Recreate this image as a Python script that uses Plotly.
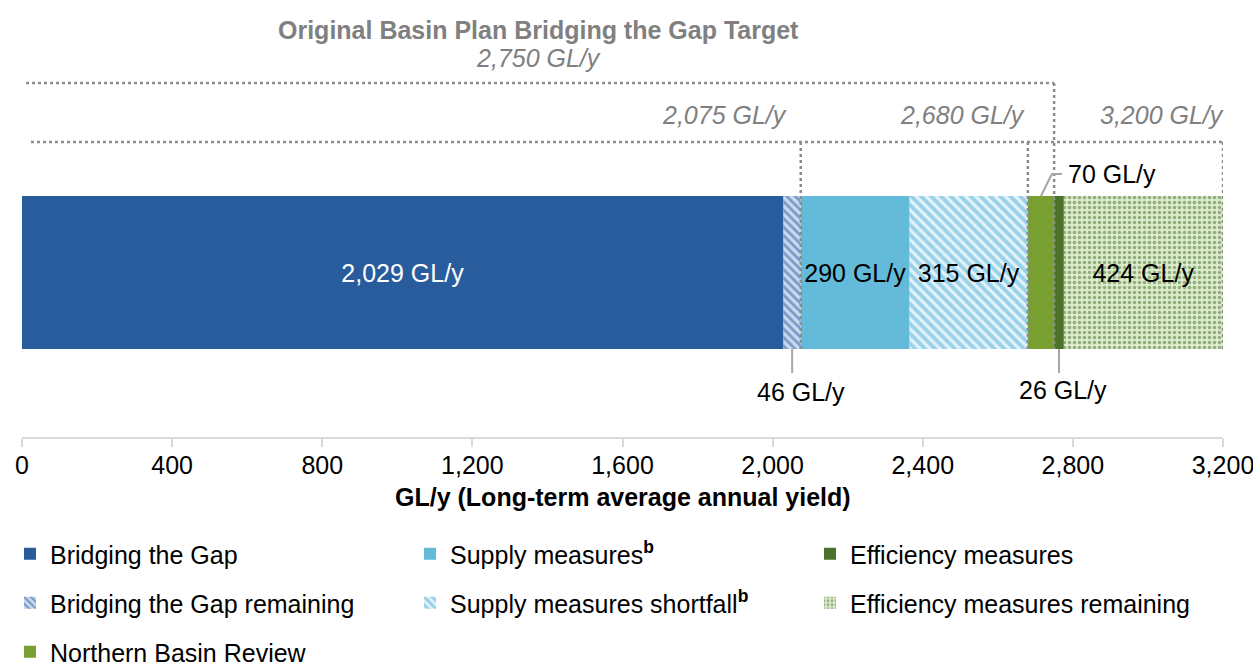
import plotly.graph_objects as go

# ---------------- data ----------------
segments = ["Bridging the Gap", "Bridging the Gap remaining", "Supply measures<sup><b>b</b></sup>",
            "Supply measures shortfall<sup><b>b</b></sup>", "Northern Basin Review",
            "Efficiency measures", "Efficiency measures remaining"]
values = [2029, 46, 290, 315, 70, 26, 424]
bar_labels = ["2,029 GL/y", "", "290 GL/y", "315 GL/y", "", "", "424 GL/y"]
label_colors = ["white", "black", "black", "black", "black", "black", "black"]
legend_rows = ["legend", "legend2", "legend", "legend2", "legend3", "legend", "legend2"]

callout_labels = ["46 GL/y", "70 GL/y", "26 GL/y"]
milestones = [2075, 2680, 2750, 3200]
milestone_labels = ["2,075 GL/y", "2,680 GL/y", "2,750 GL/y", "3,200 GL/y"]
target_title = "Original Basin Plan Bridging the Gap Target"
x_ticks = [0, 400, 800, 1200, 1600, 2000, 2400, 2800, 3200]
x_title = "GL/y (Long-term average annual yield)"

# ---------------- styles ----------------
FONT = "Liberation Sans, Arial, sans-serif"
FS = 25
GREY_TXT = "#808080"
DOT = "#8C8C8C"
LEAD = "#A6A6A6"
styles = [
    dict(color="#285C9C"),
    dict(color="#C9D9EE", pattern=dict(shape="\\", bgcolor="#C9D9EE", fgcolor="#285C9C", size=6, solidity=0.45, fillmode="overlay")),
    dict(color="#63BAD9"),
    dict(color="#E3F3FA", pattern=dict(shape="\\", bgcolor="#E3F3FA", fgcolor="#4FB0D6", size=7, solidity=0.55, fillmode="overlay")),
    dict(color="#77A030"),
    dict(color="#4A7329"),
    dict(color="#DCEBCB", pattern=dict(shape=".", bgcolor="#DCEBCB", fgcolor="#44702A", size=5, solidity=0.38, fillmode="overlay")),
]

# geometry helpers (layout positions only)
PLOT_TOP, PLOT_BOT = 0, 437
BAR_CENTER_PX, BAR_PX = 272.5, 153.0
def Y(px):
    return (BAR_CENTER_PX - px) / BAR_PX
def P(px):
    return (PLOT_BOT - px) / (PLOT_BOT - PLOT_TOP)

fig = go.Figure()
base = 0
bases = []
for name, v, lab, lc, lg, st in zip(segments, values, bar_labels, label_colors, legend_rows, styles):
    bases.append(base)
    marker = dict(st)
    marker["line"] = dict(width=0)
    if lab:
        kw = dict(text=[lab], textposition="inside", insidetextanchor="middle",
                  constraintext="none", textangle=0,
                  textfont=dict(family=FONT, size=FS, color=lc))
    else:
        kw = dict(textposition="none")
    fig.add_trace(go.Bar(
        x=[v], y=[0], base=[base], orientation="h", width=1,
        name=name, legend=lg, marker=marker, hoverinfo="skip", **kw
    ))
    base += v
ends = [b + v for b, v in zip(bases, values)]
mids = [b + v / 2 for b, v in zip(bases, values)]

shapes = []
def dotted(x0, y0, x1, y1):
    shapes.append(dict(type="line", xref="x", yref="y", x0=x0, y0=y0, x1=x1, y1=y1,
                       line=dict(color=DOT, width=2.5, dash="dot")))
def lead(x0, y0, x1, y1):
    shapes.append(dict(type="line", xref="x", yref="y", x0=x0, y0=y0, x1=x1, y1=y1,
                       line=dict(color=LEAD, width=2)))

y_line1, y_line2 = Y(83), Y(142)
px_per_unit = 1201 / 3200
# top bracket (2,750 target)
dotted(4 / px_per_unit, y_line1, milestones[2], y_line1)
dotted(milestones[2], y_line1, milestones[2], -0.5)
# lower bracket (2,075 / 2,680 / 3,200)
dotted(9 / px_per_unit, y_line2, milestones[3], y_line2)
for m in (milestones[0], milestones[1], milestones[3]):
    dotted(m, y_line2, m, -0.5)

# callout leader lines
lead(mids[1], -0.5, mids[1], Y(373))
lead(mids[5], -0.5, mids[5], Y(373))
shapes.append(dict(type="path", xref="x", yref="y",
                   path=f"M {mids[4]},0.5 L {mids[4] + 29},{Y(174)} L {ends[4] + 21},{Y(174)}",
                   line=dict(color=LEAD, width=2)))

ann = []
def text(x, y, s, **kw):
    d = dict(x=x, y=y, xref="x", yref="y", text=s, showarrow=False,
             font=dict(family=FONT, size=FS, color="black"))
    f = kw.pop("font", None)
    if f:
        d["font"].update(f)
    d.update(kw)
    ann.append(d)

text(milestones[2] / 2, Y(30), f"<b>{target_title}</b>", font=dict(color=GREY_TXT))
text(milestones[2] / 2, Y(58), f"<i>{milestone_labels[2]}</i>", font=dict(color=GREY_TXT))
text(milestones[0], Y(115), f"<i>{milestone_labels[0]}</i>", xanchor="right", xshift=-12, font=dict(color=GREY_TXT))
text(milestones[1], Y(115), f"<i>{milestone_labels[1]}</i>", xanchor="right", xshift=-1, font=dict(color=GREY_TXT))
text(milestones[3], Y(115), f"<i>{milestone_labels[3]}</i>", xanchor="right", xshift=3, font=dict(color=GREY_TXT))

text(ends[1], Y(392), callout_labels[0])
text(ends[5] - 2, Y(390), callout_labels[2])
text(ends[4] + 21, Y(174), callout_labels[1], xanchor="left", xshift=4)

ann.append(dict(x=0.5, y=P(497), xref="paper", yref="paper", text=f"<b>{x_title}</b>",
                showarrow=False, yanchor="middle", font=dict(family=FONT, size=FS, color="black")))

legend_common = dict(orientation="h", xanchor="left", yanchor="middle", x=(10 - 22) / 1201,
                     entrywidth=355, entrywidthmode="pixels", bgcolor="rgba(0,0,0,0)",
                     font=dict(family=FONT, size=FS, color="black"), valign="middle",
                     traceorder="normal")

fig.update_layout(
    template="none",
    width=1253, height=666,
    margin=dict(l=22, r=30, t=PLOT_TOP, b=666 - PLOT_BOT, pad=0, autoexpand=False),
    paper_bgcolor="white", plot_bgcolor="white",
    barmode="overlay",
    font=dict(family=FONT, size=FS, color="black"),
    showlegend=True,
    legend=dict(legend_common, y=P(554)),
    legend2=dict(legend_common, y=P(603)),
    legend3=dict(legend_common, y=P(652)),
    xaxis=dict(range=[-0.01, 3200.01], tickvals=x_ticks, tickformat=",", showgrid=False, zeroline=False,
               showline=True, linecolor="#D9D9D9", linewidth=2, ticks="outside", ticklen=8,
               tickcolor="#D9D9D9", tickwidth=2, automargin=False, fixedrange=True,
               ticklabeloverflow="allow", ticklabelstandoff=-3,
               tickfont=dict(family=FONT, size=FS, color="black")),
    yaxis=dict(range=[Y(PLOT_BOT), Y(PLOT_TOP)], visible=False, automargin=False, fixedrange=True),
    shapes=shapes,
    annotations=ann,
)

fig.write_html("out.html", config={"displayModeBar": False},
               post_script="document.body.style.margin='0';document.body.style.overflow='hidden';")
